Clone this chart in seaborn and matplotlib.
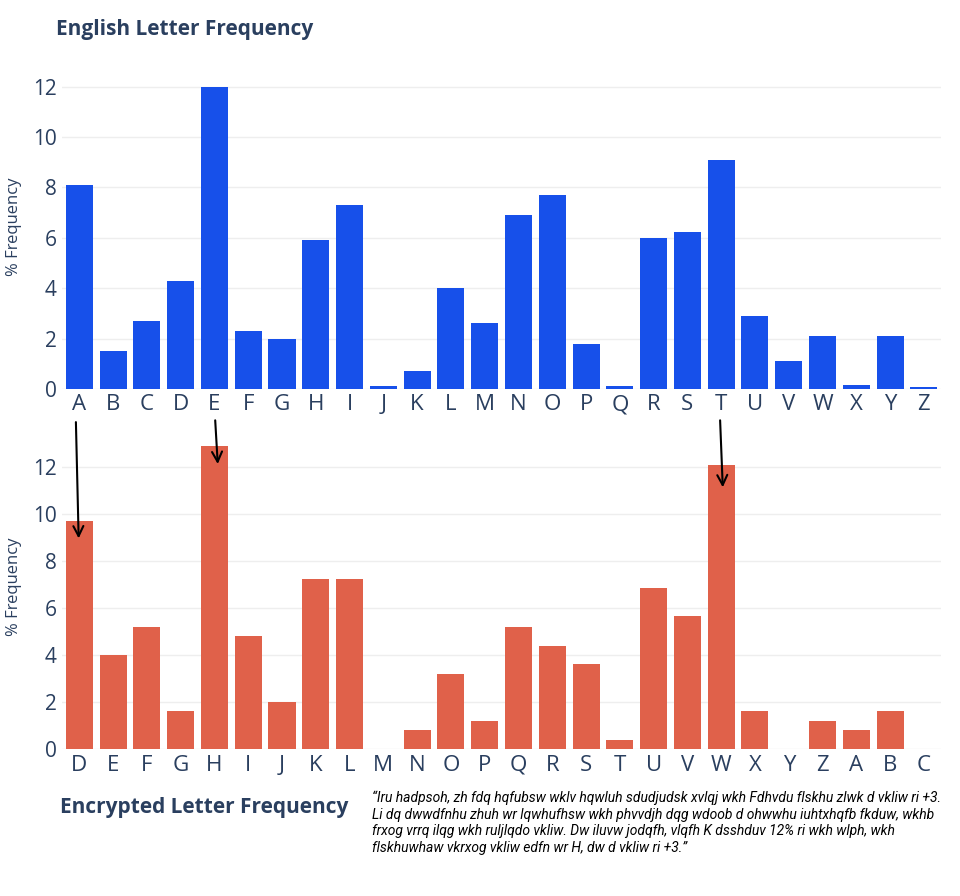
import matplotlib
matplotlib.use("Agg")
import matplotlib.pyplot as plt
import seaborn as sns
import pandas as pd

english_letters = list("ABCDEFGHIJKLMNOPQRSTUVWXYZ")
english_freq = [8.1, 1.5, 2.7, 4.3, 12.0, 2.3, 2.0, 5.9, 7.3, 0.1, 0.7, 4.0, 2.6,
                6.9, 7.7, 1.8, 0.1, 6.0, 6.25, 9.1, 2.9, 1.1, 2.1, 0.15, 2.1, 0.07]

cipher_letters = list("DEFGHIJKLMNOPQRSTUVWXYZABC")
cipher_freq = [9.7, 4.0, 5.2, 1.6, 12.9, 4.8, 2.0, 7.25, 7.25, 0.0, 0.8, 3.2, 1.2,
               5.2, 4.4, 3.6, 0.4, 6.85, 5.65, 12.1, 1.6, 0.0, 1.2, 0.8, 1.6, 0.0]

quote = ("\u201cIru hadpsoh, zh fdq hqfubsw wklv hqwluh sdudjudsk xvlqj wkh Fdhvdu flskhu zlwk d vkliw ri +3.\n"
         "Li dq dwwdfnhu zhuh wr lqwhufhsw wkh phvvdjh dqg wdoob d ohwwhu iuhtxhqfb fkduw, wkhb\n"
         "frxog vrrq ilqg wkh ruljlqdo vkliw. Dw iluvw jodqfh, vlqfh K dsshduv 12% ri wkh wlph, wkh\n"
         "flskhuwhaw vkrxog vkliw edfn wr H, dw d vkliw ri +3.\u201d")

df_en = pd.DataFrame({"letter": english_letters, "freq": english_freq})
df_ci = pd.DataFrame({"letter": cipher_letters, "freq": cipher_freq})

plt.rcParams["font.family"] = "Open Sans"
navy = "#2a3f5f"

fig = plt.figure(figsize=(9.6, 8.96), dpi=100)
ax1 = fig.add_axes([0.065, 0.566, 0.915, 0.361])
ax2 = fig.add_axes([0.065, 0.164, 0.915, 0.362])

sns.barplot(data=df_en, x="letter", y="freq", color="#1750ea", saturation=1,
            width=0.8, ax=ax1)
sns.barplot(data=df_ci, x="letter", y="freq", color="#e0614a", saturation=1,
            width=0.8, ax=ax2)

for ax, top in [(ax1, 12.85), (ax2, 13.8)]:
    ax.set_ylim(0, top)
    ax.set_xlim(-0.5, 25.5)
    ax.set_yticks([0, 2, 4, 6, 8, 10, 12])
    ax.yaxis.grid(True, color="#eeeeee", linewidth=1)
    ax.set_axisbelow(True)
    for s in ax.spines.values():
        s.set_visible(False)
    ax.tick_params(length=0, labelsize=15, colors="#2a3f5f", pad=4)
    ax.tick_params(axis="x", labelsize=16)
    ax.set_xlabel("")
    ax.set_ylabel("% Frequency", fontsize=12, color=navy, labelpad=8)

fig.text(0.058, 0.967, "English Letter Frequency", fontsize=15, fontweight="bold",
         color=navy, va="center")
fig.text(0.062, 0.099, "Encrypted Letter Frequency", fontsize=15, fontweight="bold",
         color=navy, va="center")
fig.text(0.388, 0.118, quote, fontsize=10, style="italic", color="black",
         va="top", linespacing=1.25, family="Roboto")

# arrows from English letters down to their shifted counterparts
for x0, y0, y1 in [(0.079, 0.532, 0.396), (0.224, 0.534, 0.479), (0.750, 0.534, 0.453)]:
    fig.patches.append(matplotlib.patches.FancyArrowPatch(
        (x0, y0), (x0 + 0.003, y1), transform=fig.transFigure,
        arrowstyle="->", mutation_scale=18, color="black", lw=1.5))

fig.savefig("out.png", dpi=100)
